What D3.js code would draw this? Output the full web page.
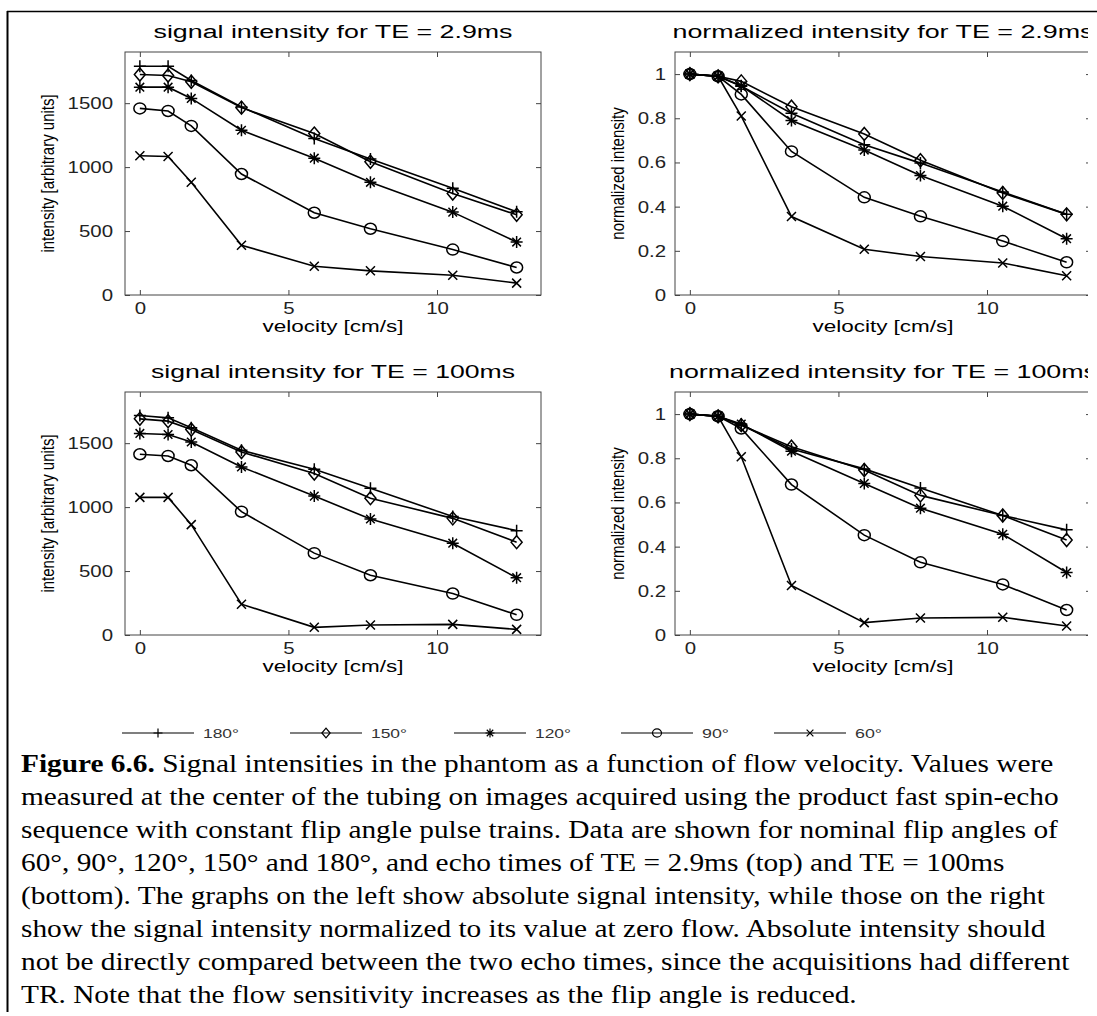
<!DOCTYPE html>
<html>
<head>
<meta charset="utf-8">
<script src="https://cdn.jsdelivr.net/npm/d3@7"></script>
<style>
body{margin:0;background:#fff;}
svg text{font-family:"Liberation Sans",Arial,sans-serif;}
</style>
</head>
<body>
<div id="fig"></div>
<script>
// velocities (cm/s) shared by all four panels
var velocity=[0,0.95,1.73,3.42,5.87,7.76,10.53,12.68]
var angles=["180°","150°","120°","90°","60°"]
var markerType=["plus","diamond","star","circle","cross"]

// signal intensity, TE = 2.9ms
var abs29_180=[1788,1788,1677,1470,1224,1063,835,650]
var abs29_150=[1724,1716,1667,1465,1262,1042,793,627]
var abs29_120=[1625,1625,1537,1288,1070,881,648,414]
var abs29_90=[1459,1439,1322,946,643,518,355,215]
var abs29_60=[1089,1083,881,389,225,189,155,93]

// normalized intensity, TE = 2.9ms
var norm29_180=[1,0.99,0.945,0.823,0.68,0.597,0.466,0.365]
var norm29_150=[1,0.99,0.967,0.852,0.729,0.61,0.462,0.365]
var norm29_120=[1,0.99,0.947,0.79,0.656,0.541,0.402,0.255]
var norm29_90=[1,0.99,0.908,0.65,0.442,0.356,0.244,0.148]
var norm29_60=[1,0.99,0.81,0.355,0.207,0.174,0.145,0.087]

// signal intensity, TE = 100ms
var abs100_180=[1716,1698,1620,1444,1296,1148,926,816]
var abs100_150=[1690,1672,1607,1431,1262,1070,912,726]
var abs100_120=[1576,1568,1509,1314,1086,907,718,448]
var abs100_90=[1413,1400,1327,964,640,467,324,158]
var abs100_60=[1076,1076,863,241,60,78,83,44]

// normalized intensity, TE = 100ms
var norm100_180=[1,0.99,0.95,0.842,0.752,0.665,0.541,0.476]
var norm100_150=[1,0.99,0.95,0.852,0.747,0.632,0.541,0.43]
var norm100_120=[1,0.99,0.955,0.832,0.686,0.574,0.456,0.283]
var norm100_90=[1,0.99,0.935,0.681,0.452,0.329,0.229,0.113]
var norm100_60=[1,0.99,0.807,0.224,0.056,0.077,0.08,0.041]

var xTicks=[0,5,10]
var absTicks=[0,500,1000,1500]
var normTicks=[0,0.2,0.4,0.6,0.8,1]

var captionLines=[
 "Signal intensities in the phantom as a function of flow velocity. Values were",
 "measured at the center of the tubing on images acquired using the product fast spin-echo",
 "sequence with constant flip angle pulse trains. Data are shown for nominal flip angles of",
 "60°, 90°, 120°, 150° and 180°, and echo times of TE = 2.9ms (top) and TE = 100ms",
 "(bottom). The graphs on the left show absolute signal intensity, while those on the right",
 "show the signal intensity normalized to its value at zero flow. Absolute intensity should",
 "not be directly compared between the two echo times, since the acquisitions had different",
 "TR. Note that the flow sensitivity increases as the flip angle is reduced."
]

var panels=[
 {title:"signal intensity for TE = 2.9ms",ylabel:"intensity [arbitrary units]",series:[abs29_180,abs29_150,abs29_120,abs29_90,abs29_60],ymax:1900,ticks:absTicks,col:0,row:0,tl:359},
 {title:"normalized intensity for TE = 2.9ms",ylabel:"normalized intensity",series:[norm29_180,norm29_150,norm29_120,norm29_90,norm29_60],ymax:1.1,ticks:normTicks,col:1,row:0,tl:421},
 {title:"signal intensity for TE = 100ms",ylabel:"intensity [arbitrary units]",series:[abs100_180,abs100_150,abs100_120,abs100_90,abs100_60],ymax:1900,ticks:absTicks,col:0,row:1,tl:364},
 {title:"normalized intensity for TE = 100ms",ylabel:"normalized intensity",series:[norm100_180,norm100_150,norm100_120,norm100_90,norm100_60],ymax:1.1,ticks:normTicks,col:1,row:1,tl:428}
]

var svgWidth=1097
var svgHeight=1016
var boxLeft=[125,675]
var boxTop=[52,392]
var boxW=416
var boxH=243

var svg=d3.select("#fig").append("svg")
    .attr("width",svgWidth)
    .attr("height",svgHeight)

svg.append("clipPath").attr("id","cut")
    .append("rect").attr("x",0).attr("y",0).attr("width",1088).attr("height",svgHeight)

var fig=svg.append("g").attr("clip-path","url(#cut)")

function markerPath(type,k){
    k=k||1
    var s=6*k
    if(type=="plus") return `M${-s},0H${s}M0,${-s}V${s}`
    if(type=="cross"){var c=4.5*k;return `M${-c},${-c}L${c},${c}M${-c},${c}L${c},${-c}`}
    if(type=="star"){var a=6*k,b=4.3*k;return `M${-a},0H${a}M0,${-a}V${a}M${-b},${-b}L${b},${b}M${-b},${b}L${b},${-b}`}
    if(type=="diamond"){var w=5.5*k,h=6.5*k;return `M0,${-h}L${w},0L0,${h}L${-w},0Z`}
    var rx=6*k,ry=5.5*k
    return `M${-rx},0a${rx},${ry} 0 1,0 ${2*rx},0a${rx},${ry} 0 1,0 ${-2*rx},0Z`
}

// the scan is a little wider than tall, so widen short texts a bit
function widen(sel,f){
    sel.each(function(){
        var n=this.getComputedTextLength()
        if(n>0) d3.select(this).attr("textLength",n*f).attr("lengthAdjust","spacingAndGlyphs")
    })
}

panels.forEach(function(p){
    var x0=boxLeft[p.col], y0=boxTop[p.row]
    var xScale=d3.scaleLinear().domain([-0.5,13.5]).range([x0,x0+boxW])
    var yScale=d3.scaleLinear().domain([0,p.ymax]).range([y0+boxH,y0])
    var g=fig.append("g")

    g.append("rect")
        .attr("x",x0).attr("y",y0)
        .attr("width",boxW).attr("height",boxH)
        .attr("fill","none").attr("stroke","#444").attr("stroke-width",1)

    var fmt=d=>String(d)
    var bottom=g.append("g").attr("transform",`translate(0,${y0+boxH})`)
        .call(d3.axisBottom(xScale).tickValues(xTicks).tickSize(-5).tickSizeOuter(0).tickPadding(7).tickFormat(fmt))
    var top=g.append("g").attr("transform",`translate(0,${y0})`)
        .call(d3.axisTop(xScale).tickValues(xTicks).tickSize(-5).tickSizeOuter(0).tickFormat(""))
    var left=g.append("g").attr("transform",`translate(${x0},0)`)
        .call(d3.axisLeft(yScale).tickValues(p.ticks).tickSize(-5).tickSizeOuter(0).tickPadding(p.col==0?12:9).tickFormat(fmt))
    var right=g.append("g").attr("transform",`translate(${x0+boxW},0)`)
        .call(d3.axisRight(yScale).tickValues(p.ticks).tickSize(-5).tickSizeOuter(0).tickFormat(""))
    ;[bottom,top,left,right].forEach(a=>{
        a.select(".domain").remove()
        a.selectAll("line").attr("stroke","#444")
        a.selectAll("text").attr("font-size","17px").attr("fill","#222")
    })
    widen(bottom.selectAll("text"),1.2)
    widen(left.selectAll("text"),1.2)

    var line=d3.line().x((d,i)=>xScale(velocity[i])).y(d=>yScale(d))
    p.series.forEach(function(s,k){
        g.append("path").datum(s)
            .attr("d",line)
            .attr("fill","none").attr("stroke","#000").attr("stroke-width",1.6)
        g.selectAll(".m"+k).data(s).enter()
            .append("path")
            .attr("transform",(d,i)=>`translate(${xScale(velocity[i])},${yScale(d)})`)
            .attr("d",markerPath(markerType[k]))
            .attr("fill","none").attr("stroke","#000").attr("stroke-width",1.5)
    })

    g.append("text")
        .attr("x",x0+boxW/2).attr("y",y0-14)
        .attr("text-anchor","middle")
        .attr("font-size","18px")
        .attr("textLength",p.tl).attr("lengthAdjust","spacingAndGlyphs")
        .text(p.title)
    g.append("text")
        .attr("x",x0+boxW/2).attr("y",y0+boxH+37)
        .attr("text-anchor","middle")
        .attr("font-size","16px")
        .attr("textLength",141).attr("lengthAdjust","spacingAndGlyphs")
        .text("velocity [cm/s]")
    var ylx=p.col==0?54:624
    g.append("text")
        .attr("transform",`translate(${ylx},${y0+boxH/2}) rotate(-90) scale(1,1.2)`)
        .attr("text-anchor","middle")
        .attr("font-size","15px")
        .text(p.ylabel)
})

// legend
var legX=[122,290,454,621,774]
var legY=733
var legend=fig.append("g")
angles.forEach(function(a,k){
    legend.append("line")
        .attr("x1",legX[k]).attr("x2",legX[k]+72)
        .attr("y1",legY).attr("y2",legY)
        .attr("stroke","#000").attr("stroke-width",1.2)
    legend.append("path")
        .attr("transform",`translate(${legX[k]+36},${legY})`)
        .attr("d",markerPath(markerType[k],0.75))
        .attr("fill","none").attr("stroke","#000").attr("stroke-width",1.2)
    legend.append("text")
        .attr("x",legX[k]+81).attr("y",legY+5)
        .attr("font-size","13px").attr("fill","#333")
        .attr("textLength",a.length>3?36:27).attr("lengthAdjust","spacingAndGlyphs")
        .text(a)
})

// caption
var cap=fig.append("g")
captionLines.forEach(function(t,i){
    var tx=cap.append("text")
        .attr("x",21).attr("y",772+i*33)
        .style("font-family","'Liberation Serif','Times New Roman',serif")
        .style("font-size","24.5px")
    if(i==0){
        tx.append("tspan").attr("font-weight","bold").text("Figure 6.6.")
        tx.append("tspan").text(" "+t)
    } else tx.text(t)
})
// stretch the caption horizontally like the scanned page
var w0=cap.select("text").node().getComputedTextLength()
var sx=(1054-21)/w0
cap.attr("transform",`translate(${21-21*sx},0) scale(${sx},1)`)

// page frame
svg.append("line").attr("x1",7.5).attr("x2",7.5).attr("y1",11).attr("y2",1012)
    .attr("stroke","#000").attr("stroke-width",2)
svg.append("line").attr("x1",7).attr("x2",svgWidth).attr("y1",11.5).attr("y2",11.5)
    .attr("stroke","#000").attr("stroke-width",1.5)
</script>
</body>
</html>
